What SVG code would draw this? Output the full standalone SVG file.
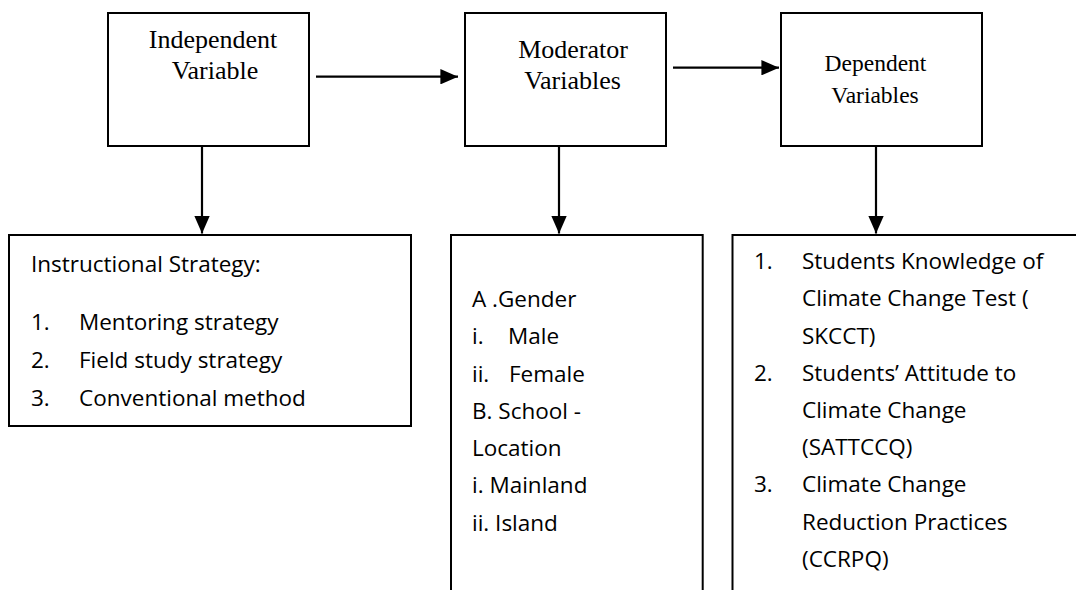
<svg xmlns="http://www.w3.org/2000/svg" width="1076" height="590" viewBox="0 0 1076 590">
<style>
.box{fill:#fff;stroke:#000;stroke-width:2}
.open{fill:none;stroke:#000;stroke-width:2}
.hd{font-family:"Liberation Serif","Times New Roman",serif;font-size:26px;fill:#000;text-anchor:middle}
.hd2{font-family:"Liberation Serif","Times New Roman",serif;font-size:23.5px;fill:#000;text-anchor:middle}
.tx{font-family:"Open Sans","Liberation Sans",sans-serif;font-size:22.5px;fill:#000}
.conn line{stroke:#000;stroke-width:2.2}
</style>
<defs>
<marker id="ah" markerWidth="8" markerHeight="7" refX="8" refY="3.5" orient="auto" markerUnits="strokeWidth">
<path d="M0,0 L8,3.5 L0,7 Z" fill="#000"/>
</marker>
</defs>
<rect width="1076" height="590" fill="#fff"/>
<g id="independent">
<rect class="box" x="108" y="13" width="201" height="133"/>
<text class="hd" x="213" y="48">Independent</text>
<text class="hd" x="215" y="79">Variable</text>
</g>
<g id="moderator">
<rect class="box" x="465" y="13" width="201" height="133"/>
<text class="hd" x="573" y="58">Moderator</text>
<text class="hd" x="572.5" y="89">Variables</text>
</g>
<g id="dependent">
<rect class="box" x="781" y="13" width="201" height="133"/>
<text class="hd2" x="875.5" y="70.5">Dependent</text>
<text class="hd2" x="875" y="102.5">Variables</text>
</g>
<g id="strategy">
<rect class="box" x="9" y="235" width="402" height="191"/>
<text class="tx" x="31" y="272">Instructional Strategy:</text>
<text class="tx" x="31" y="330">1.</text><text class="tx" x="79" y="330">Mentoring strategy</text>
<text class="tx" x="31" y="368">2.</text><text class="tx" x="79" y="368">Field study strategy</text>
<text class="tx" x="31" y="406">3.</text><text class="tx" x="79" y="406">Conventional method</text>
</g>
<g id="moderators-list">
<path class="open" d="M451,591 V235 H702.7 V591"/>
<text class="tx" x="472" y="307">A .Gender</text>
<text class="tx" x="472" y="344.3">i.</text><text class="tx" x="508" y="344.3">Male</text>
<text class="tx" x="472" y="381.5">ii.</text><text class="tx" x="509" y="381.5">Female</text>
<text class="tx" x="472" y="418.8">B. School -</text>
<text class="tx" x="472" y="456">Location</text>
<text class="tx" x="472" y="493.3">i. Mainland</text>
<text class="tx" x="472" y="530.5">ii. Island</text>
</g>
<g id="dependents-list">
<path class="open" d="M732.5,591 V235 H1077"/>
<text class="tx" x="754" y="269">1.</text><text class="tx" x="802" y="269">Students Knowledge of</text>
<text class="tx" x="802" y="306">Climate Change Test (</text>
<text class="tx" x="802" y="343.5">SKCCT)</text>
<text class="tx" x="754" y="380.5">2.</text><text class="tx" x="802" y="380.5">Students’ Attitude to</text>
<text class="tx" x="802" y="418">Climate Change</text>
<text class="tx" x="802" y="455">(SATTCCQ)</text>
<text class="tx" x="754" y="492">3.</text><text class="tx" x="802" y="492">Climate Change</text>
<text class="tx" x="802" y="529.5">Reduction Practices</text>
<text class="tx" x="802" y="566.5">(CCRPQ)</text>
</g>
<g class="conn" id="connectors">
<line x1="316" y1="76.7" x2="458" y2="76.7" marker-end="url(#ah)"/>
<line x1="673" y1="67.7" x2="779" y2="67.7" marker-end="url(#ah)"/>
<line x1="202" y1="146" x2="202" y2="233.5" marker-end="url(#ah)"/>
<line x1="559" y1="146" x2="559" y2="233.5" marker-end="url(#ah)"/>
<line x1="876" y1="146" x2="876" y2="233.5" marker-end="url(#ah)"/>
</g>
</svg>
